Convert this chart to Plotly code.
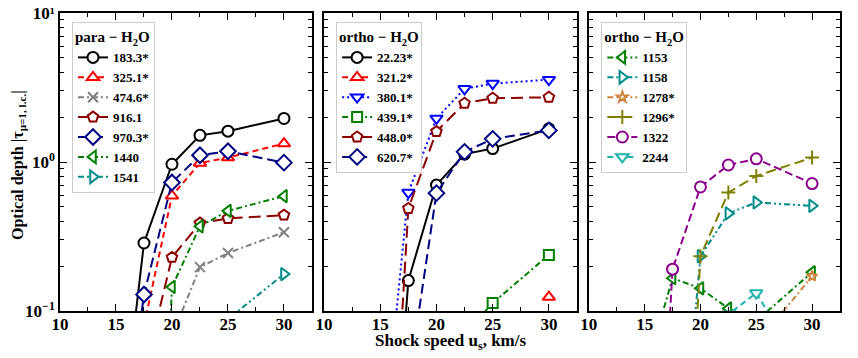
import plotly.graph_objects as go

# shock speeds (km/s)
speeds = [15, 17.5, 20, 22.5, 25, 30]

# para-H2O
para_labels = ["183.3*", "325.1*", "474.6*", "916.1", "970.3*", "1440", "1541"]
p_183 = [0.007, 0.286, 0.966, 1.51, 1.61, 1.96]
p_325 = [0.002, 0.08, 0.593, 0.985, 1.07, 1.33]
p_474 = [None, 0.01, 0.068, 0.197, 0.245, 0.338]
p_916 = [0.001, 0.038, 0.229, 0.389, 0.418, 0.44]
p_970 = [0.005, 0.129, 0.728, 1.11, 1.18, 0.99]
p_1440 = [None, 0.00001, 0.145, 0.37, 0.47, 0.59]
p_1541 = [None, None, 0.01, 0.02, 0.088, 0.177]

# ortho-H2O (low)
ortho_labels = ["22.23*", "321.2*", "380.1*", "439.1*", "448.0*", "620.7*"]
o_22 = [0.0005, 0.16, 0.70, 1.13, 1.23, 1.67]
o_321 = [None, None, None, None, None, 0.124]
o_380 = [0.008, 0.624, 1.96, 3.10, 3.36, 3.57]
o_439 = [None, None, None, 0.07, 0.113, 0.238]
o_448 = [0.0003, 0.488, 1.60, 2.48, 2.68, 2.72]
o_620 = [None, 0.033, 0.618, 1.17, 1.43, 1.63]

# ortho-H2O (high)
ortho2_labels = ["1153", "1158", "1278*", "1296*", "1322", "2244"]
h_1153 = [0.037, 0.166, 0.142, 0.104, 0.086, 0.182]
h_1158 = [None, 0.002, 0.233, 0.452, 0.535, 0.508]
h_1278 = [None, None, None, None, 0.06, 0.171]
h_1296 = [None, 0.0001, 0.233, 0.624, 0.806, 1.07]
h_1322 = [0.0001, 0.191, 0.68, 0.955, 1.05, 0.717]
h_2244 = [None, None, 0.02, 0.095, 0.132, 0.032]

ytick_vals = [0.1, 1, 10]
ytick_text = ["10<sup>\u22121</sup>", "10<sup>0</sup>", "10\u00b9"]

FONT = "Liberation Serif"

fig = go.Figure()


def add(vals, name, color, dash, symbol, panel, size=11):
    ax = "" if panel == 1 else str(panel)
    if symbol in ("x-thin", "cross-thin"):
        marker = dict(symbol=symbol, size=size, line=dict(color=color, width=2))
    else:
        marker = dict(symbol=symbol, size=size, color="white", line=dict(color=color, width=2))
    fig.add_trace(go.Scatter(
        x=speeds, y=vals, name=name, mode="lines+markers",
        line=dict(color=color, width=2, dash=dash), marker=marker,
        xaxis="x" + ax, yaxis="y" + ax, legend="legend" + ax))


# panel 1
add(p_183, para_labels[0], "black", "solid", "circle", 1)
add(p_325, para_labels[1], "red", "6px,4px", "triangle-up", 1)
add(p_474, para_labels[2], "gray", "6px,3px,2px,3px", "x-thin", 1, 10)
add(p_916, para_labels[3], "darkred", "12px,6px", "pentagon", 1)
add(p_970, para_labels[4], "navy", "10px,5px", "diamond", 1, 12)
add(p_1440, para_labels[5], "green", "6px,3px,2px,3px", "triangle-left", 1)
add(p_1541, para_labels[6], "darkcyan", "6px,3px,2px,3px,2px,3px", "triangle-right", 1)

# panel 2
add(o_22, ortho_labels[0], "black", "solid", "circle", 2)
add(o_321, ortho_labels[1], "red", "6px,4px", "triangle-up", 2)
add(o_380, ortho_labels[2], "blue", "2px,3px", "triangle-down", 2)
add(o_439, ortho_labels[3], "green", "6px,3px,2px,3px", "square", 2, 10)
add(o_448, ortho_labels[4], "darkred", "12px,6px", "pentagon", 2)
add(o_620, ortho_labels[5], "navy", "10px,5px", "diamond", 2, 12)

# panel 3
add(h_1153, ortho2_labels[0], "green", "6px,3px,2px,3px", "triangle-left", 3)
add(h_1158, ortho2_labels[1], "darkcyan", "6px,3px,2px,3px,2px,3px", "triangle-right", 3)
add(h_1278, ortho2_labels[2], "peru", "6px,3px,2px,3px", "star", 3, 8)
add(h_1296, ortho2_labels[3], "olive", "10px,5px", "cross-thin", 3, 10)
add(h_1322, ortho2_labels[4], "darkmagenta", "8px,4px", "circle", 3)
add(h_2244, ortho2_labels[5], "lightseagreen", "6px,4px", "triangle-down", 3)

tickfont = dict(family=FONT, size=17, color="black", weight="bold")
minor_y = [k * 0.1 for k in range(2, 10)] + [k * 1.0 for k in range(2, 10)]

xdomains = [[0, 0.323], [0.3385, 0.6628], [0.678, 1]]
for i, dom in enumerate(xdomains):
    ax = "" if i == 0 else str(i + 1)
    fig.layout["xaxis" + ax] = dict(
        domain=dom, range=[10, 32.5], tickvals=[10, 15, 20, 25, 30],
        ticks="inside", ticklen=7, tickcolor="black", mirror="allticks",
        showline=True, linecolor="black", linewidth=1.5, showgrid=False, zeroline=False,
        minor=dict(dtick=2.5, tick0=10, ticks="inside", ticklen=4, tickcolor="black", showgrid=False),
        tickfont=tickfont, anchor="y" + ax, automargin=False, ticklabelstandoff=-3,
        ticklabeloverflow="allow")
    fig.layout["yaxis" + ax] = dict(
        type="log", range=[-1, 1], tickvals=ytick_vals, ticktext=ytick_text,
        showticklabels=(i == 0),
        ticks="inside", ticklen=7, tickcolor="black", mirror="allticks",
        showline=True, linecolor="black", linewidth=1.5, showgrid=False, zeroline=False,
        minor=dict(tickvals=minor_y, ticks="inside", ticklen=4, tickcolor="black", showgrid=False),
        tickfont=tickfont, anchor="x" + ax, automargin=False, ticklabeloverflow="allow")

legend_common = dict(
    bgcolor="white", bordercolor="#cccccc", borderwidth=1,
    font=dict(family=FONT, size=13, color="black", weight="bold"),
    xanchor="left", yanchor="top", tracegroupgap=0)
fig.update_layout(
    legend=dict(x=0.0154, y=0.97, title=dict(text="<b>para \u2212 H<sub>2</sub>O</b>",
                                             font=dict(family=FONT, size=15)), **legend_common),
    legend2=dict(x=0.354, y=0.97, title=dict(text="<b>ortho \u2212 H<sub>2</sub>O</b>",
                                             font=dict(family=FONT, size=15)), **legend_common),
    legend3=dict(x=0.694, y=0.97, title=dict(text="<b>ortho \u2212 H<sub>2</sub>O</b>",
                                             font=dict(family=FONT, size=15)), **legend_common),
)

fig.add_annotation(text="<b>Shock speed u<sub>s</sub>, km/s</b>", xref="paper", yref="paper",
                   x=0.5, y=-0.104, xanchor="center", yanchor="middle", showarrow=False,
                   font=dict(family=FONT, size=17, color="black"))
fig.add_annotation(text="<b>Optical depth |\u03c4<sub>\u03bc=1, l.c.</sub>|</b>", xref="paper", yref="paper",
                   x=-0.0525, y=0.49, xanchor="center", yanchor="middle", textangle=-90, showarrow=False,
                   font=dict(family=FONT, size=16, color="black"))

# the page body adds an 8px offset, so margins are trimmed on top/left to compensate
fig.update_layout(width=858, height=358, margin=dict(l=52, r=26, t=5, b=55, autoexpand=False),
                  plot_bgcolor="white", paper_bgcolor="white",
                  font=dict(family=FONT, color="black"))

fig.write_html("out.html")
